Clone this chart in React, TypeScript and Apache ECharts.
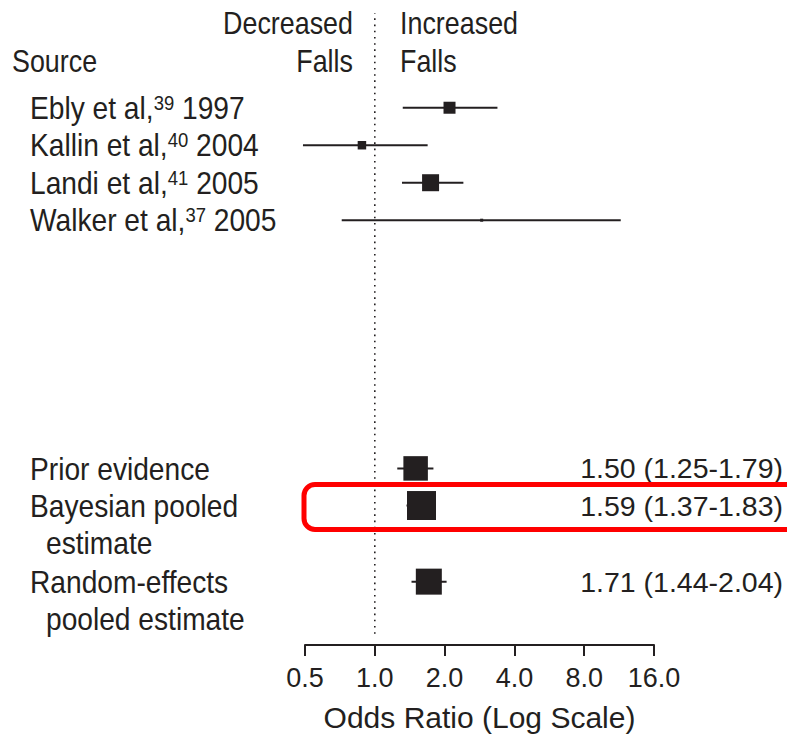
import React, { useEffect, useRef } from "react";
import * as echarts from "echarts";

// ---- Data ----
const studyNames = ["Ebly et al,", "Kallin et al,", "Landi et al,", "Walker et al,"];
const studyRefs = ["39", "40", "41", "37"];
const studyYears = ["1997", "2004", "2005", "2005"];
const studyOR = [2.1, 0.88, 1.74, 2.89];
const studyLow = [1.32, 0.49, 1.31, 0.72];
const studyHigh = [3.38, 1.69, 2.41, 11.5];
const studyWeight = [12, 8.5, 17, 3];
const studyRow = [1, 2, 3, 4];

const pooledLine1 = ["Prior evidence", "Bayesian pooled", "Random-effects"];
const pooledLine2 = ["", "estimate", "pooled estimate"];
const pooledOR = [1.5, 1.59, 1.71];
const pooledLow = [1.25, 1.37, 1.44];
const pooledHigh = [1.79, 1.83, 2.04];
const pooledWeight = [24.5, 29, 26];
const pooledRow = [10.62, 11.61, 13.64];

const xTicks = [0.5, 1, 2, 4, 8, 16];

const FONT = '"Liberation Sans", Arial, sans-serif';
const INK = "#231f20";
const SX = 0.88; // horizontal condensing of row label text
const SXH = 0.84; // header text condensing

export default function App() {
  const ref = useRef<HTMLDivElement>(null);
  useEffect(() => {
    document.body.style.margin = "0";
    const chart = echarts.init(ref.current!, null, { renderer: "svg" });

    const studyData = studyOR.map((v, i) => [studyLow[i], studyHigh[i], v, studyRow[i], studyWeight[i], i]);
    const pooledData = pooledOR.map((v, i) => [pooledLow[i], pooledHigh[i], v, pooledRow[i], pooledWeight[i], i]);

    const forestItem = (api: any) => {
      const y = api.value(3);
      const pL = api.coord([api.value(0), y]);
      const pH = api.coord([api.value(1), y]);
      const pC = api.coord([api.value(2), y]);
      const s = api.value(4);
      return {
        pC,
        children: [
          { type: "line", shape: { x1: pL[0], y1: pL[1], x2: pH[0], y2: pH[1] }, style: { stroke: INK, lineWidth: 2 } },
          { type: "rect", shape: { x: pC[0] - s / 2, y: pC[1] - s / 2, width: s, height: s }, style: { fill: INK } },
        ] as any[],
      };
    };

    const headText = (text: string, x: number, y: number, align: string) => ({
      type: "text",
      x,
      y,
      scaleX: SXH,
      style: { text, fontSize: 32, fontFamily: FONT, fill: INK, align, verticalAlign: "middle" },
    });

    chart.setOption({
      animation: false,
      grid: { left: 305, right: 133, top: 14, bottom: 97 },
      xAxis: {
        type: "log",
        logBase: 2,
        min: xTicks[0],
        max: xTicks[xTicks.length - 1],
        splitLine: { show: false },
        axisLine: { onZero: false, lineStyle: { color: INK, width: 2 } },
        axisTick: { length: 11, lineStyle: { color: INK, width: 2 } },
        axisLabel: {
          fontSize: 27,
          color: INK,
          fontFamily: FONT,
          margin: 19,
          formatter: (v: number) => Number(v).toFixed(1),
        },
        name: "Odds Ratio (Log Scale)",
        nameLocation: "middle",
        nameGap: 57,
        nameTextStyle: { fontSize: 30, color: INK, fontFamily: FONT },
      },
      yAxis: { type: "value", inverse: true, min: -1.5, max: 15.33, show: false },
      graphic: [
        headText("Source", 12, 61, "left"),
        headText("Decreased", 353, 23, "right"),
        headText("Falls", 353, 61, "right"),
        headText("Increased", 400, 23, "left"),
        headText("Falls", 400, 61, "left"),
        {
          type: "rect",
          z: 100,
          shape: { x: 304, y: 484.5, width: 520, height: 45, r: 11 },
          style: { fill: "none", stroke: "#ff0000", lineWidth: 5 },
        },
      ],
      series: [
        {
          type: "line",
          data: [[1, -1.55], [1, 15.1]],
          symbol: "none",
          lineStyle: { color: INK, width: 1.6, type: [1.6, 4.6] },
          silent: true,
        },
        {
          type: "custom",
          data: studyData,
          encode: { x: [0, 1, 2], y: 3 },
          renderItem: (params: any, api: any) => {
            const { pC, children } = forestItem(api);
            const i = api.value(5);
            children.push({
              type: "text",
              x: 30,
              y: pC[1],
              scaleX: SX,
              style: {
                text: `{a|${studyNames[i]}}{s|${studyRefs[i]}}{a| ${studyYears[i]}}`,
                align: "left",
                verticalAlign: "middle",
                rich: {
                  a: { fontSize: 32, fontFamily: FONT, fill: INK, lineHeight: 32 },
                  s: { fontSize: 21, fontFamily: FONT, fill: INK, lineHeight: 20, verticalAlign: "top" },
                },
              },
            });
            return { type: "group", children };
          },
        },
        {
          type: "custom",
          data: pooledData,
          encode: { x: [0, 1, 2], y: 3 },
          renderItem: (params: any, api: any) => {
            const { pC, children } = forestItem(api);
            const i = api.value(5);
            const rowH = api.coord([1, 1])[1] - api.coord([1, 0])[1];
            children.push({
              type: "text",
              x: 30,
              y: pC[1],
              scaleX: SX,
              style: { text: pooledLine1[i], fontSize: 32, fontFamily: FONT, fill: INK, align: "left", verticalAlign: "middle" },
            });
            if (pooledLine2[i]) {
              children.push({
                type: "text",
                x: 46,
                y: pC[1] + rowH,
                scaleX: SX,
                style: { text: pooledLine2[i], fontSize: 32, fontFamily: FONT, fill: INK, align: "left", verticalAlign: "middle" },
              });
            }
            children.push({
              type: "text",
              x: 783,
              y: pC[1],
              style: {
                text: `${pooledOR[i].toFixed(2)} (${pooledLow[i].toFixed(2)}-${pooledHigh[i].toFixed(2)})`,
                fontSize: 28.5,
                fontFamily: FONT,
                fill: INK,
                align: "right",
                verticalAlign: "middle",
              },
            });
            return { type: "group", children };
          },
        },
      ],
    });
    return () => chart.dispose();
  }, []);
  return <div ref={ref} style={{ width: 787, height: 742 }} />;
}
